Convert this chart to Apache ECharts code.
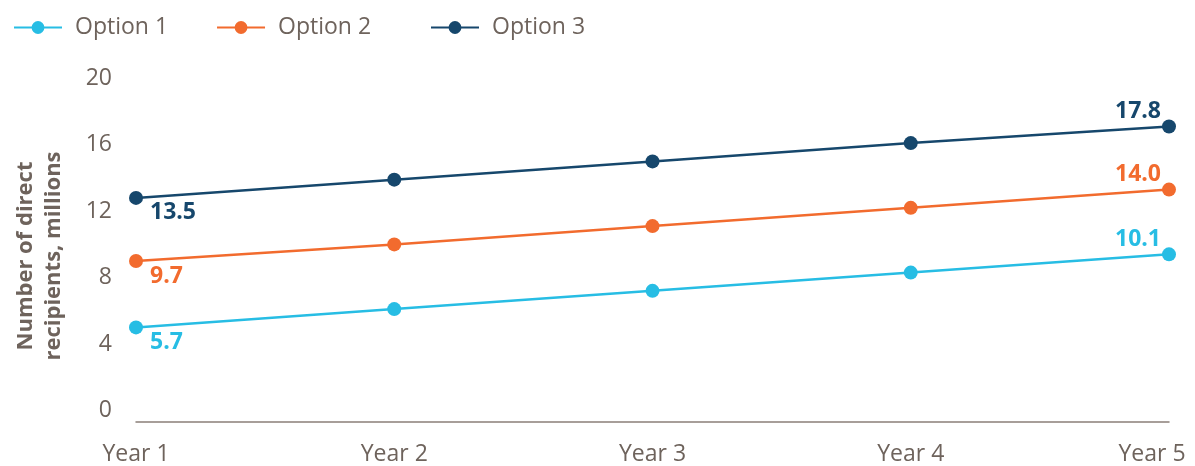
<!DOCTYPE html>
<html><head><meta charset="utf-8">
<style>html,body{margin:0;padding:0;background:#fff}#c{width:1195px;height:466px}</style>
<script src="https://cdn.jsdelivr.net/npm/echarts@6/dist/echarts.min.js"></script>
</head><body><div id="c"></div>
<script>
const categories = ['Year 1','Year 2','Year 3','Year 4','Year 5'];
const option1 = [5.7, 6.8, 7.9, 9.0, 10.1];
const option2 = [9.7, 10.7, 11.8, 12.9, 14.0];
const option3 = [13.5, 14.6, 15.7, 16.8, 17.8];
const seriesNames = ['Option 1','Option 2','Option 3'];
const yTicks = {min: 0, max: 20, interval: 4};
const yAxisTitle = 'Number of direct\nrecipients, millions';

const colors = ['#27bde4', '#f26b2e', '#16476c'];
const textColor = '#6e635c';
const font = '"Open Sans", Lato, sans-serif';

function buildData(vals, color) {
  return vals.map((v, i) => {
    if (i === 0) {
      return {value: v, label: {show: true, position: 'right', distance: 7, offset: [0, 15], color: color}};
    }
    if (i === vals.length - 1) {
      return {value: v, label: {show: true, position: 'left', distance: 1, offset: [0, -15], color: color}};
    }
    return v;
  });
}

const legendBase = {
  top: 11,
  itemWidth: 48, itemHeight: 16, itemGap: 48,
  textStyle: {fontSize: 23, color: textColor, fontFamily: font, padding: [0,0,0,8]}
};

const allVals = [option1, option2, option3];
const chart = echarts.init(document.getElementById('c'));
chart.setOption({
  animation: false,
  textStyle: {fontFamily: font},
  legend: [
    Object.assign({}, legendBase, {left: 8, data: seriesNames.slice(0, 2)}),
    Object.assign({}, legendBase, {left: 425, data: seriesNames.slice(2)})
  ],
  grid: {left: 136, right: 26, top: 90, bottom: 44, containLabel: false, outerBoundsMode: 'none'},
  xAxis: {
    type: 'category', boundaryGap: false,
    data: categories.map((c, i) => i === categories.length - 1 ? {value: c, textStyle: {padding: [0, 34, 0, 0]}} : c),
    axisLine: {show: true, lineStyle: {color: '#8a7f78', width: 1.5}},
    axisTick: {show: false},
    axisLabel: {fontSize: 23, color: textColor, margin: 21, fontFamily: font}
  },
  yAxis: {
    type: 'value', min: yTicks.min, max: yTicks.max, interval: yTicks.interval,
    axisLine: {show: false}, axisTick: {show: false}, splitLine: {show: false},
    axisLabel: {fontSize: 23, color: textColor, margin: 24, verticalAlign: 'bottom', fontFamily: font},
    name: yAxisTitle, nameLocation: 'middle', nameGap: 68, nameRotate: 90,
    nameTextStyle: {fontSize: 22, fontWeight: 'bold', color: textColor, lineHeight: 28, fontFamily: font}
  },
  series: allVals.map((vals, k) => ({
    name: seriesNames[k], type: 'line',
    data: buildData(vals, colors[k]),
    color: colors[k],
    symbol: 'circle', symbolSize: 14,
    lineStyle: {width: 2.5, color: colors[k]},
    itemStyle: {color: colors[k]},
    label: {fontSize: 23, fontWeight: 'bold', fontFamily: font, formatter: p => Number(p.value).toFixed(1)}
  }))
});
</script></body></html>
